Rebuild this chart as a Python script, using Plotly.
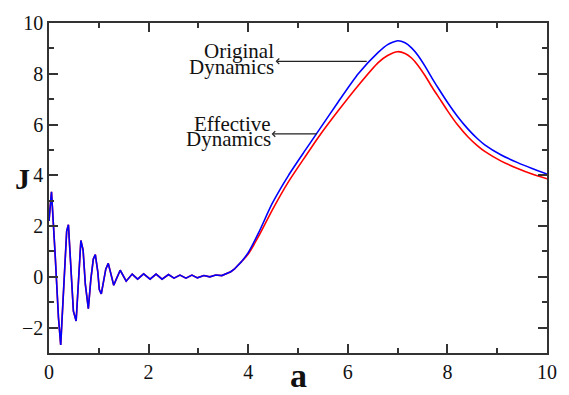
import plotly.graph_objects as go

# Oscillating region (shared by both series)
x_osc = [0.0, 0.05, 0.12, 0.19, 0.235, 0.30, 0.355, 0.39, 0.45, 0.49, 0.545, 0.60, 0.64, 0.685,
         0.73, 0.79, 0.84, 0.89, 0.93, 0.98, 1.01, 1.05, 1.10, 1.14, 1.19, 1.24, 1.30, 1.36,
         1.43, 1.55, 1.67, 1.78, 1.90, 2.03, 2.15, 2.27, 2.40, 2.51, 2.63, 2.75, 2.87, 2.98,
         3.11, 3.23, 3.35, 3.47, 3.55, 3.65, 3.72, 3.80, 3.88]
y_osc = [2.2, 3.35, 1.0, -1.6, -2.68, -0.2, 1.8, 2.05, 0.0, -1.35, -1.74, 0.2, 1.43, 1.05,
         -0.3, -1.25, -0.1, 0.7, 0.88, 0.2, -0.5, -0.67, -0.1, 0.3, 0.53, 0.1, -0.33, -0.05,
         0.26, -0.17, 0.11, -0.09, 0.12, -0.09, 0.11, -0.09, 0.09, -0.05, 0.07, -0.05, 0.07, -0.04,
         0.05, 0.0, 0.07, 0.05, 0.12, 0.2, 0.3, 0.45, 0.63]

# Rise / peak / decay region
x_main = [4.0, 4.21, 4.48, 4.81, 5.15, 5.41, 5.81, 6.21, 6.61, 6.8, 7.0, 7.15, 7.28, 7.41,
          7.55, 7.7, 7.85, 8.0, 8.2, 8.41, 8.6, 8.75, 9.08, 9.41, 9.7, 10.0]
y_original = [0.95, 1.74, 2.88, 4.0, 5.0, 5.75, 6.9, 8.0, 8.84, 9.15, 9.30, 9.22, 9.02, 8.72,
              8.3, 7.8, 7.33, 6.88, 6.33, 5.83, 5.45, 5.2, 4.8, 4.5, 4.27, 4.05]
y_effective = [0.9, 1.6, 2.62, 3.75, 4.75, 5.5, 6.55, 7.54, 8.44, 8.72, 8.87, 8.8, 8.62, 8.33,
               7.93, 7.45, 7.0, 6.55, 6.0, 5.52, 5.17, 4.94, 4.56, 4.27, 4.05, 3.86]

x_ticks = [0, 2, 4, 6, 8, 10]
y_ticks = [-2, 0, 2, 4, 6, 8, 10]

FONT = "Liberation Serif"
RED = "#ff0000"
BLUE = "#0000ff"

fig = go.Figure()
# effective (red)
fig.add_trace(go.Scatter(x=x_osc[-1:] + x_main, y=y_osc[-1:] + y_effective, mode="lines",
                         line=dict(color=RED, width=1.6, shape="spline", smoothing=0.6),
                         showlegend=False))
fig.add_trace(go.Scatter(x=x_osc, y=y_osc, mode="lines",
                         line=dict(color=RED, width=1.6), showlegend=False))
# original (blue)
fig.add_trace(go.Scatter(x=x_osc[-1:] + x_main, y=y_osc[-1:] + y_original, mode="lines",
                         line=dict(color=BLUE, width=1.6, shape="spline", smoothing=0.6),
                         showlegend=False))
fig.add_trace(go.Scatter(x=x_osc, y=y_osc, mode="lines",
                         line=dict(color=BLUE, width=1.6), showlegend=False))

axis_common = dict(
    showgrid=False, zeroline=False, showline=True, linecolor="#333", linewidth=1.5,
    mirror="ticks", ticks="inside", ticklen=9, tickwidth=1.5, tickcolor="#333",
    tickfont=dict(family=FONT, size=20, color="#111"),
    minor=dict(ticks="inside", ticklen=5, tickwidth=1.5, tickcolor="#333", dtick=1),
)
fig.update_xaxes(range=[0, 10], tickvals=x_ticks, **axis_common)
fig.update_yaxes(range=[-3, 10], tickvals=y_ticks, **axis_common)

ann_font = dict(family=FONT, size=21, color="#111")
fig.add_annotation(x=4.55, y=8.9, text="Original", showarrow=False, xanchor="right",
                   yanchor="middle", font=ann_font)
fig.add_annotation(x=4.55, y=8.26, text="Dynamics", showarrow=False, xanchor="right",
                   yanchor="middle", font=ann_font)
fig.add_annotation(x=4.5, y=6.02, text="Effective", showarrow=False, xanchor="right",
                   yanchor="middle", font=ann_font)
fig.add_annotation(x=4.5, y=5.42, text="Dynamics", showarrow=False, xanchor="right",
                   yanchor="middle", font=ann_font)
# arrows
fig.add_annotation(x=4.55, y=8.49, ax=6.41, ay=8.49, axref="x", ayref="y", text="",
                   showarrow=True, arrowhead=4, arrowsize=0.9, arrowwidth=1.2, arrowcolor="#222")
fig.add_annotation(x=4.47, y=5.63, ax=5.41, ay=5.63, axref="x", ayref="y", text="",
                   showarrow=True, arrowhead=4, arrowsize=0.9, arrowwidth=1.2, arrowcolor="#222")

# axis titles
fig.add_annotation(x=-0.072, y=0.53, xref="paper", yref="paper", text="<b>J</b>",
                   showarrow=False, font=dict(family=FONT, size=30, color="#111"))
fig.add_annotation(x=0.502, y=-0.068, xref="paper", yref="paper", text="<b>a</b>",
                   showarrow=False, yanchor="middle", font=dict(family=FONT, size=34, color="#111"))

fig.update_layout(width=569, height=395, margin=dict(l=49, r=19, t=16, b=28),
                  paper_bgcolor="white", plot_bgcolor="white")
fig.write_html("out.html")
